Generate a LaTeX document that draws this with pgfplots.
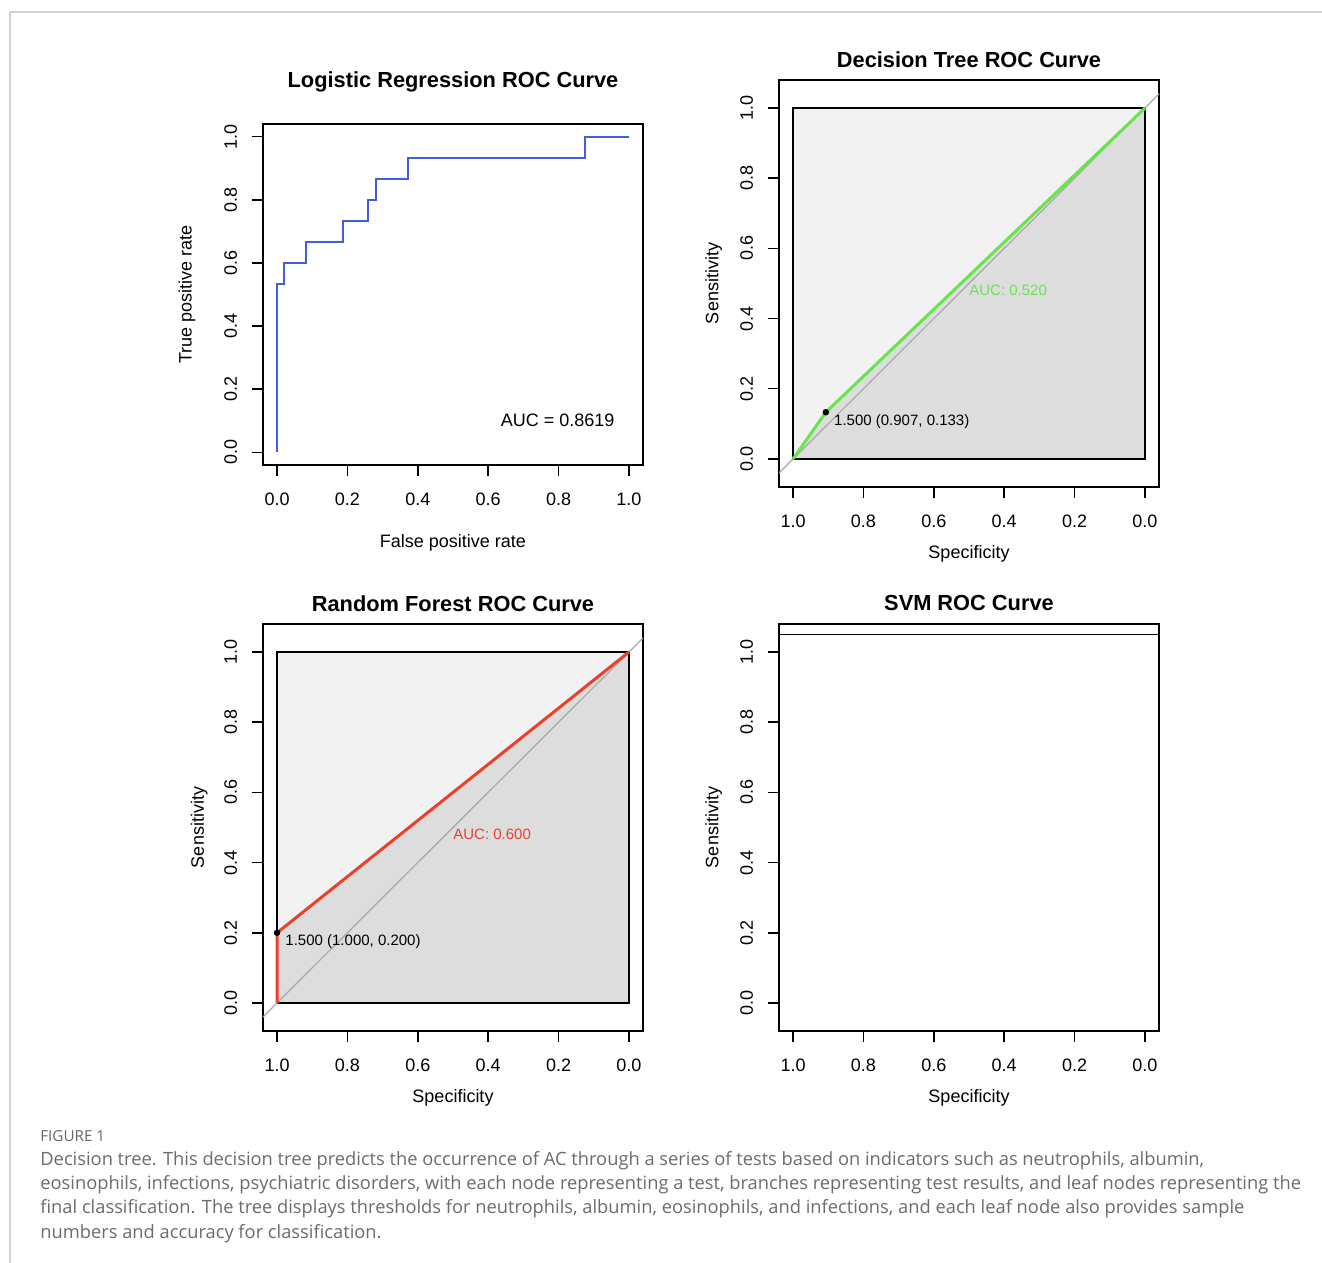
\documentclass[border=0pt]{standalone}
\usepackage{fontspec}
\setmainfont{Liberation Sans}
\newfontfamily\capfont{Open Sans}
\usepackage{pgfplots}
\pgfplotsset{compat=1.18}

\definecolor{lrblue}{HTML}{3F5FE0}
\definecolor{dtgreen}{HTML}{66E64A}
\definecolor{rfred}{HTML}{E8412C}
\definecolor{lightfill}{HTML}{F2F2F2}
\definecolor{aucfill}{HTML}{DDDDDD}
\definecolor{diag}{HTML}{A8A8A8}
\definecolor{capgray}{HTML}{6B6B6B}

\pgfplotsset{
  rplot/.style={
    scale only axis,
    width=190pt,
    anchor=south west,
    axis line style={line width=0.75pt},
    tick align=outside,
    tick pos=left,
    major tick length=5.5pt,
    every tick/.style={black, line width=0.75pt},
    xtick={0,0.2,...,1},
    ytick={0,0.2,...,1},
    /pgf/number format/.cd, fixed, fixed zerofill, precision=1, assume math mode=true,
    /pgfplots/.cd,
    tick label style={font=\fontsize{9}{10}\selectfont},
    yticklabel style={rotate=90, anchor=south},
    xticklabel shift=5pt,
    yticklabel shift=4pt,
    label style={font=\fontsize{9}{10}\selectfont},
    title style={font=\fontsize{10.9}{12}\selectfont\bfseries, anchor=center},
    clip=true,
  },
  rocsq/.style={
    rplot,
    height=203.5pt,
    x dir=reverse,
    xmin=-0.04, xmax=1.04,
    ymin=-0.08, ymax=1.08,
    xlabel={Specificity},
    ylabel={Sensitivity},
    xlabel style={at={(axis description cs:0.5,-0.165)}, anchor=center},
    ylabel style={at={(axis description cs:-0.172,0.5)}, anchor=center},
    title style={at={(axis description cs:0.5,1.021)}},
  },
}

\begin{document}
\begin{tikzpicture}
\path[use as bounding box] (0,0) rectangle (661pt,631.5pt);

% page frame lines
\draw[color=black!18, line width=1pt] (5pt,625.5pt) -- (661pt,625.5pt);
\draw[color=black!18, line width=1pt] (5pt,625.5pt) -- (5pt,0pt);

% ---------- Logistic Regression ----------
\begin{axis}[rplot,
  at={(131.5pt,399pt)}, height=170.5pt,
  xmin=-0.04, xmax=1.04, ymin=-0.04, ymax=1.04,
  title={Logistic Regression ROC Curve},
  title style={at={(axis description cs:0.5,1.088)}},
  xlabel={False positive rate},
  ylabel={True positive rate},
  xlabel style={at={(axis description cs:0.5,-0.229)}, anchor=center},
  ylabel style={at={(axis description cs:-0.2,0.5)}, anchor=center},
]
\addplot[lrblue, line width=1pt] coordinates {
(0,0) (0,0.533) (0.021,0.533) (0.021,0.6) (0.083,0.6) (0.083,0.667)
(0.186,0.667) (0.186,0.733) (0.259,0.733) (0.259,0.8) (0.280,0.8)
(0.280,0.867) (0.372,0.867) (0.372,0.933) (0.876,0.933) (0.876,1) (1,1)
};
\node[anchor=west, inner sep=0pt, font=\fontsize{9}{10}\selectfont] at (axis cs:0.635,0.101) {AUC = 0.8619};
\end{axis}

% ---------- Decision Tree ----------
\begin{axis}[rocsq, at={(389.5pt,388pt)}, title={Decision Tree ROC Curve}]
\addplot[fill=lightfill, draw=none] coordinates {(0,0) (0,1) (1,1) (1,0)} -- cycle;
\addplot[fill=aucfill, draw=none] coordinates {(1,0) (0.907,0.133) (0,1) (0,0)} -- cycle;
\addplot[draw=black, line width=0.75pt] coordinates {(0,0) (0,1) (1,1) (1,0)} -- cycle;
\addplot[diag, line width=0.6pt] coordinates {(1.2,-0.2) (-0.2,1.2)};
\addplot[dtgreen, line width=1.5pt] coordinates {(1,0) (0.907,0.133) (0,1)};
\addplot[only marks, mark=*, mark size=1.4pt, black] coordinates {(0.907,0.133)};
\node[anchor=west, inner sep=0pt, xshift=4pt, yshift=-4.5pt, font=\fontsize{7.5}{9}\selectfont] at (axis cs:0.907,0.133) {1.500 (0.907, 0.133)};
\node[anchor=west, inner sep=0pt, text=dtgreen, font=\fontsize{7.5}{9}\selectfont] at (axis cs:0.5,0.48) {AUC: 0.520};
\end{axis}

% ---------- Random Forest ----------
\begin{axis}[rocsq, at={(131.5pt,116pt)}, title={Random Forest ROC Curve},
  ylabel style={at={(axis description cs:-0.168,0.5)}}]
\addplot[fill=lightfill, draw=none] coordinates {(0,0) (0,1) (1,1) (1,0)} -- cycle;
\addplot[fill=aucfill, draw=none] coordinates {(1,0) (1,0.2) (0,1) (0,0)} -- cycle;
\addplot[draw=black, line width=0.75pt] coordinates {(0,0) (0,1) (1,1) (1,0)} -- cycle;
\addplot[diag, line width=0.6pt] coordinates {(1.2,-0.2) (-0.2,1.2)};
\addplot[rfred, line width=1.5pt] coordinates {(1,0) (1,0.2) (0,1)};
\addplot[only marks, mark=*, mark size=1.4pt, black] coordinates {(1,0.2)};
\node[anchor=west, inner sep=0pt, xshift=4pt, yshift=-4.5pt, font=\fontsize{7.5}{9}\selectfont] at (axis cs:1,0.2) {1.500 (1.000, 0.200)};
\node[anchor=west, inner sep=0pt, text=rfred, font=\fontsize{7.5}{9}\selectfont] at (axis cs:0.5,0.48) {AUC: 0.600};
\end{axis}

% ---------- SVM ----------
\begin{axis}[rocsq, at={(389.5pt,116pt)}, title={SVM ROC Curve}]
\addplot[black, line width=0.75pt] coordinates {(1.2,1.05) (-0.2,1.05)};
\end{axis}

% caption
\node[anchor=base west, inner sep=0pt, text=black!60, font=\capfont\fontsize{7.6}{9}\selectfont] at (20pt,60.5pt) {FIGURE 1};
\begin{scope}[every node/.style={anchor=base west, inner sep=0pt, text=capgray, font=\capfont\fontsize{9.15}{11}\selectfont}]
\node at (20pt,48.5pt) {Decision tree. This decision tree predicts the occurrence of AC through a series of tests based on indicators such as neutrophils, albumin,};
\node at (20pt,36.5pt) {eosinophils, infections, psychiatric disorders, with each node representing a test, branches representing test results, and leaf nodes representing the};
\node at (20pt,24.5pt) {final classification. The tree displays thresholds for neutrophils, albumin, eosinophils, and infections, and each leaf node also provides sample};
\node at (20pt,12.5pt) {numbers and accuracy for classification.};
\end{scope}
\end{tikzpicture}
\end{document}
